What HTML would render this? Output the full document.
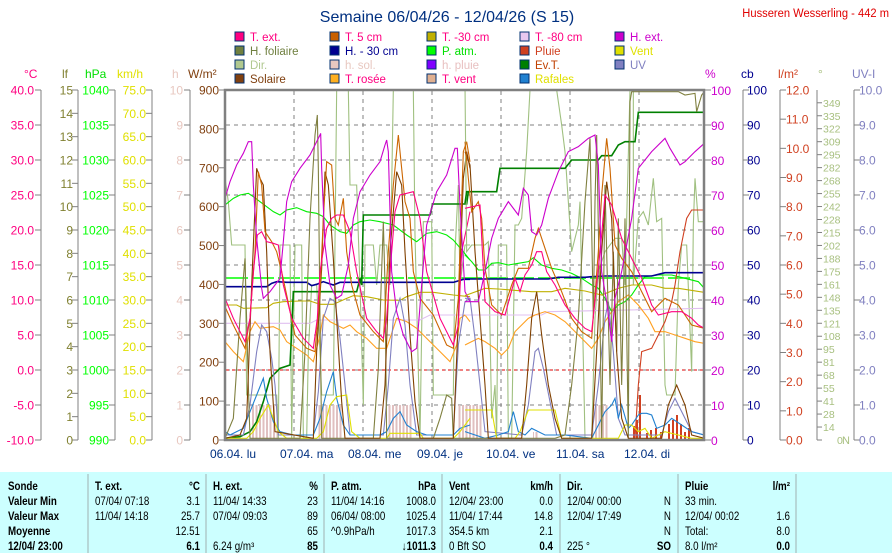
<!DOCTYPE html>
<html><head><meta charset="utf-8"><style>
html,body{margin:0;padding:0;background:#fff;width:892px;height:553px;overflow:hidden}
svg{display:block;font-family:"Liberation Sans",sans-serif}
</style></head><body>
<svg id="s" width="892" height="553" viewBox="0 0 892 553" xmlns="http://www.w3.org/2000/svg">
<defs>
<clipPath id="cp"><rect x="226" y="91" width="478" height="349"/></clipPath>
<pattern id="hs" width="3.5" height="10" patternUnits="userSpaceOnUse"><rect x="0" y="0" width="2" height="10" fill="#e0c0c0"/></pattern>
</defs>
<text x="447" y="22" font-size="16" fill="#003080" text-anchor="middle">Semaine 06/04/26 - 12/04/26 (S 15)</text>
<text x="889" y="17" font-size="12" fill="#e00000" text-anchor="end" transform="translate(889 0) scale(0.93 1) translate(-889 0)">Husseren Wesserling - 442 m</text>
<g id="legend" font-size="11.5"></g>
<g id="axes"></g>
<g id="grid"></g>
<g clip-path="url(#cp)">
 <g fill="url(#hs)">
  <rect x="252" y="405" width="28" height="35"/><rect x="317" y="405" width="26" height="35"/>
  <rect x="387" y="405" width="26" height="35"/><rect x="458" y="405" width="24" height="35"/>
  <rect x="592" y="405" width="16" height="35"/><rect x="533" y="432" width="6" height="8"/>
 </g>
 <g fill="#d04020">
  <rect x="633" y="426" width="2" height="14"/><rect x="636" y="420" width="2" height="20"/><rect x="639" y="395" width="2" height="45"/>
  <rect x="646" y="433" width="2" height="7"/><rect x="650" y="430" width="2" height="10"/><rect x="655" y="428" width="2" height="12"/>
  <rect x="660" y="432" width="2" height="8"/><rect x="668" y="424" width="2" height="16"/><rect x="672" y="420" width="2" height="20"/>
  <rect x="676" y="415" width="2" height="25"/><rect x="680" y="424" width="2" height="16"/><rect x="684" y="432" width="2" height="8"/>
  <rect x="688" y="428" width="2" height="12"/>
 </g>
 <line x1="226" y1="278" x2="690" y2="278" stroke="#00ff00" stroke-width="1.5" stroke-dasharray="22,4"/>
 <line x1="226" y1="370" x2="704" y2="370" stroke="#e00000" stroke-dasharray="3,3"/>
 <g id="L" transform="translate(220,85) scale(0.33333)" fill="none"></g>
 <g id="R" transform="translate(465,85) scale(0.33333)" fill="none"></g>
</g>
<rect x="225" y="90" width="479" height="350" fill="none" stroke="#808080" stroke-width="2.5"/>
<g id="days" font-size="12" fill="#003080"></g>
<g id="tbl"></g>
</svg>
<script>
var NS="http://www.w3.org/2000/svg";
function el(p,t,a,txt){var e=document.createElementNS(NS,t);for(var k in a)e.setAttribute(k,a[k]);if(txt!=null)e.textContent=txt;p.appendChild(e);return e;}
var lg=document.getElementById('legend');
var L=[[235,[["T. ext.","#ff0080","#ff0080"],["H. foliaire","#708040","#708040"],["Dir.","#b0c890","#b0c890"],["Solaire","#804010","#804010"]]],
[330,[["T. 5 cm","#c86000","#ff0080"],["H. - 30 cm","#000090","#000090"],["h. sol.","#e8c8c0","#e8c8c0"],["T. rosée","#ffb020","#ff0080"]]],
[427,[["T. -30 cm","#c0b000","#ff0080"],["P. atm.","#00ff00","#00e000"],["h. pluie","#8000ff","#e8c0c0"],["T. vent","#e0b090","#ff0080"]]],
[520,[["T. -80 cm","#e8c8f0","#ff0080"],["Pluie","#d04020","#d04020"],["Ev.T.","#008000","#c04000"],["Rafales","#2080d0","#e0e000"]]],
[615,[["H. ext.","#cc00cc","#cc00cc"],["Vent","#e0e000","#e0e000"],["UV","#8080c0","#8080c0"]]]];
L.forEach(function(c){c[1].forEach(function(r,i){var y=32+i*14;el(lg,'rect',{x:c[0],y:y,width:9,height:9,fill:r[1],stroke:'#003070','stroke-width':1});el(lg,'text',{x:c[0]+15,y:y+9,fill:r[2]},r[0]);});});
var ax=document.getElementById('axes');
function axis(x,col,vals,lx,anchor,tickSide,fs){var n=vals.length-1;el(ax,'line',{x1:x,y1:90,x2:x,y2:440,stroke:'#808080'});
 vals.forEach(function(v,i){var y=440-i*350/n;el(ax,'line',{x1:x+(tickSide<0?-6:0),y1:y,x2:x+(tickSide<0?0:6),y2:y,stroke:'#808080'});
 if(v!=='')el(ax,'text',{x:lx,y:y+4.5,fill:col,'font-size':fs||12,'text-anchor':anchor},v);});}
function rng(a,b,s,d){var r=[];for(var v=a;v<=b+1e-9;v+=s)r.push(v.toFixed(d));return r;}
axis(41,'#ff0080',rng(-10,40,5,1),34,'end',-1);
axis(78,'#808030',rng(0,15,1,0),73,'end',-1);
axis(115,'#00ff00',rng(990,1040,5,0),109,'end',-1);
axis(152,'#e0e000',rng(0,75,5,1),146,'end',-1);
axis(190,'#e8c8c0',rng(0,10,1,0),183,'end',-1);
axis(225,'#804010',rng(0,900,100,0),219,'end',-1);
axis(743,'#000090',rng(0,100,10,0),747,'start',1);
axis(780,'#d04020',rng(0,12,1,1),786,'start',1);
axis(854,'#8080c0',rng(0,10,1,1),859,'start',1);
rng(0,100,10,0).forEach(function(v,i){var y=440-i*35;el(ax,'line',{x1:704,y1:y,x2:711,y2:y,stroke:'#808080'});el(ax,'text',{x:711,y:y+5,fill:'#cc00cc','font-size':12},v);});
var dv=['N','14','28','41','55','68','81','95','108','121','135','148','161','175','188','202','215','228','242','255','268','282','295','309','322','335','349'];
el(ax,'line',{x1:817,y1:90,x2:817,y2:440,stroke:'#808080'});
dv.forEach(function(v,i){var y=440-i*12.97;el(ax,'line',{x1:817,y1:y,x2:822,y2:y,stroke:'#808080'});el(ax,'text',{x:i==0?842:823,y:y+4,fill:'#a8c080','font-size':i==0?11:10.5},v);});
el(ax,'text',{x:837,y:440+4,fill:'#a8c080','font-size':10.5},'0');
[[24,'°C','#ff0080'],[62,'lf','#808030'],[85,'hPa','#00e000'],[117,'km/h','#e0e000'],[172,'h','#e8c8c0'],[188,'W/m²','#804010'],[705,'%','#cc00cc'],[741,'cb','#000090'],[778,'l/m²','#d04020'],[818,'°','#a8c080'],[852,'UV-I','#8080c0']].forEach(function(u){el(ax,'text',{x:u[0],y:78,fill:u[2],'font-size':12},u[1]);});
var g=document.getElementById('grid');
for(var i=1;i<10;i++){var y=440-i*35;el(g,'line',{x1:226,y1:y,x2:704,y2:y,stroke:'#808080','stroke-dasharray':'4,4'});}
[294,363,432,501,570,639].forEach(function(x){el(g,'line',{x1:x,y1:91,x2:x,y2:440,stroke:'#808080','stroke-dasharray':'4,4'});});
var dg=document.getElementById('days');
[['06.04.  lu',210],['07.04.  ma',280],['08.04.  me',348],['09.04.  je',417],['10.04.  ve',486],['11.04.  sa',556],['12.04.  di',624]].forEach(function(d){el(dg,'text',{x:d[1],y:458,'xml:space':'preserve'},d[0]);});
var SER=[
['#a0c080',"15,280 25,350 35,480 75,480 80,930 170,930 175,1060 180,480 210,480 215,1060 225,480 245,480 250,1060 260,1060 265,800 275,600 290,600 300,800 305,930 340,930 350,14 385,14 390,300 410,300 420,600 430,960 435,480 460,480 470,600 480,480 500,480 510,600 520,14 580,14 585,450 600,1060 610,410 635,410 640,930 700,930 705,500 715,300 720,600 735,480 750,480",
 "0,0 5,500 20,480 60,480 70,470 80,1000 90,900 95,1060 100,480 125,480 130,1060 140,1060 150,420 160,420 170,400 185,200 195,15 275,15 290,120 300,200 310,350 320,500 340,420 345,350 360,1060 380,1060 390,700 400,560 420,500 450,460 470,460 480,600 495,15 505,15 505,600 520,400 535,380 550,420 565,280 575,410 590,400 600,900 605,930 630,930 640,600 650,480 665,480 680,860 685,420 690,280 700,410 718,410"],
['#e0c0f0',"15,715 270,715 290,705 600,705 630,690 750,690","0,690 230,690 250,680 718,670"],
['#00ee00',"15,360 40,340 60,330 85,325 100,335 120,350 140,365 160,380 180,390 200,375 230,368 260,380 290,385 310,395 330,420 360,440 380,445 400,420 420,410 450,405 480,410 520,420 560,450 590,470 620,445 650,440 680,450 700,465 730,500 750,525",
 "0,510 20,530 40,555 60,555 80,535 100,533 130,540 160,535 190,530 205,518 230,540 260,550 290,555 320,565 350,580 380,600 400,610 420,640 440,680 460,660 480,650 500,630 520,600 540,575 580,570 620,570 660,580 700,590 718,610"],
['#000090',"15,605 140,605 155,595 170,590 200,592 260,592 275,602 290,598 310,590 340,600 360,592 700,592 730,583 750,583","0,582 250,582 280,577 360,577 380,575 420,573 480,573 560,573 600,563 718,563"],
['#c0b000',"15,660 50,660 70,670 140,668 160,655 190,650 240,648 270,648 300,658 340,658 380,640 400,632 440,635 490,645 540,646 560,635 600,622 640,622 700,630 750,635","0,632 60,610 100,612 200,620 260,620 300,610 360,618 410,630 460,610 500,600 560,600 600,610 640,610 718,622"],
['#ffa020',"15,770 40,800 70,830 90,740 105,710 120,730 160,725 180,735 200,770 230,790 260,810 280,830 300,750 310,690 330,710 350,720 370,730 390,720 410,740 440,760 470,790 500,790 520,730 530,700 560,710 590,730 620,760 660,800 690,830 710,780 720,700 735,690 750,710",
 "0,780 20,770 40,760 60,770 90,790 110,810 130,790 150,740 170,720 190,700 210,690 240,680 270,690 300,710 330,740 360,770 380,790 400,760 420,710 460,650 490,630 520,660 550,700 570,740 600,740 630,750 660,760 690,770 718,775"],
['#008000',"15,1060 60,1055 90,1040 110,1010 130,950 150,880 180,850 210,840 215,740 220,620 410,620 420,580 425,600 430,390 630,390 638,357 740,357 745,320 750,320","0,355 5,320 95,320 105,250 300,250 320,225 400,225 410,212 440,212 460,180 480,170 510,170 520,82 718,82"],
['#d04020',"","510,1060 520,900 530,800 560,790 600,710 620,650 630,600 645,500 665,400 680,375 718,375"],
['#8080c0',"15,1050 70,1050 90,960 110,800 125,720 140,740 155,820 165,900 175,1050 280,1050 295,920 310,700 330,640 345,650 360,760 375,900 390,1050 490,1050 505,900 520,700 540,640 555,720 570,900 590,1050 700,1050 715,780 735,650 750,640",
 "0,640 15,640 30,760 45,900 60,1040 170,1050 190,960 210,800 220,790 235,850 255,950 275,1050 380,1050 400,900 420,700 430,650 445,800 460,1000 480,1050 590,1050 610,980 630,940 650,980 680,1040 718,1050"],
['#2080d0',"15,1040 30,1050 50,1040 70,1030 90,980 110,930 130,880 140,940 160,1010 180,1040 220,1050 280,1050 300,1000 320,920 340,860 350,940 370,1020 390,1050 480,1050 500,1040 520,1000 540,980 560,1020 590,1040 620,1050 700,1050 720,1030 750,1020",
 "0,1040 60,1060 100,1050 130,1040 145,980 160,1040 180,1050 200,1030 240,1050 300,1050 380,1060 400,1020 420,980 440,960 450,940 460,1000 470,960 490,1030 500,1020 520,990 530,985 545,985 560,990 575,1030 600,1020 620,1000 650,1020 680,1040 718,1050"],
['#e0e000',"15,1060 80,1060 100,1040 120,1000 145,960 160,1000 175,1040 200,1060 290,1060 310,1040 330,960 350,935 380,930 395,1040 420,1060 500,1060 510,1045 600,1045 610,1060 700,1060 720,1040 750,1000",
 "0,975 20,975 80,975 95,1060 150,1060 165,1040 190,975 270,975 290,1060 410,1060 460,1060 480,1020 500,1020 520,1040 540,1030 560,1060 600,1040 640,1050 680,1060 718,1060"],
['#808040',"15,1060 40,1000 60,700 75,520 85,900 90,1060 240,1060 255,800 270,400 285,150 292,90 295,250 300,700 305,1060 460,1060 475,850 490,410 495,600 500,1060 640,1060 660,1000 680,930 695,940 700,1060 750,1060",
 "0,1060 270,1060 300,1050 320,900 340,700 360,350 375,160 385,700 390,350 395,150 405,700 410,1060 420,300 435,900 445,500 455,800 460,400 470,900 480,400 490,1060 495,50 500,20 640,20 660,30 690,25 695,80 710,30 718,20"],
['#804000',"15,1060 60,1050 80,1000 95,600 110,250 120,280 130,300 140,500 150,800 165,1040 280,1060 290,800 305,550 315,260 325,300 340,520 350,700 365,950 375,1060 480,1060 495,900 510,500 530,260 545,300 555,500 570,750 585,950 600,1060 700,1060 715,700 730,280 740,200 750,250",
 "0,200 15,240 30,500 45,700 60,900 70,1060 170,1060 185,900 200,700 215,620 230,750 250,900 270,1000 290,1060 380,1060 395,800 410,500 425,290 440,400 455,800 470,1000 490,1060 590,1060 610,960 635,900 660,960 680,1050 718,1060"],
['#cc6600',"15,665 40,720 75,790 90,700 105,500 115,260 125,300 135,440 155,470 170,500 185,560 200,630 225,750 260,790 285,800 300,620 310,400 320,230 335,240 345,400 355,420 370,340 380,500 395,600 420,690 460,740 490,770 505,500 520,300 535,150 545,250 555,350 570,400 580,560 600,640 640,690 680,780 700,790 715,640 730,200 740,170 750,230",
 "0,170 10,280 20,380 40,350 50,400 60,550 80,660 110,690 140,600 160,550 190,550 210,460 220,430 240,490 260,550 290,620 320,700 350,740 380,760 400,500 410,330 425,160 435,250 450,480 470,520 500,560 530,620 560,680 600,640 640,660 680,720 718,730"],
['#ff0080',"15,640 40,700 75,770 90,700 100,560 112,450 125,440 140,470 160,475 175,480 190,600 215,700 250,760 280,790 292,700 300,560 320,430 335,400 350,390 370,390 390,440 410,560 440,700 470,740 490,760 500,700 510,560 525,380 540,330 580,320 600,400 620,560 660,700 700,780 715,720 725,500 750,380",
 "0,370 45,360 60,650 90,680 120,690 150,580 165,620 180,570 200,540 215,500 230,500 245,560 270,600 300,660 330,700 360,730 380,740 395,600 410,450 420,330 440,360 470,460 500,520 530,580 560,660 580,690 620,680 650,680 680,700 700,720 718,730"],
['#cc00cc',"15,340 30,290 50,240 70,205 85,170 95,170 100,300 110,460 125,610 130,640 150,620 165,600 180,580 190,470 200,350 215,290 240,250 270,210 290,170 300,150 302,145 305,250 315,480 330,600 350,640 365,630 385,540 400,400 420,320 450,270 480,230 495,180 500,165 505,200 515,560 530,680 550,750 575,800 590,790 605,600 620,420 650,320 680,270 705,190 712,190 720,360 735,620 750,650",
 "0,650 40,650 60,560 80,460 100,400 130,350 160,390 175,310 190,330 200,440 215,450 230,420 250,340 280,260 310,200 340,185 370,160 390,150 400,240 410,560 425,650 440,770 450,640 470,560 500,400 520,250 560,200 600,160 615,190 645,240 660,230 690,200 718,175"]
];
var GL=document.getElementById('L'),GR=document.getElementById('R');
SER.forEach(function(s){var w=(s[0]=='#008000'||s[0]=='#000090')?1.6:1.1;
 if(s[1])el(GL,'polyline',{points:s[1],stroke:s[0],'stroke-width':w,'vector-effect':'non-scaling-stroke'});
 if(s[2])el(GR,'polyline',{points:s[2],stroke:s[0],'stroke-width':w,'vector-effect':'non-scaling-stroke'});});
var T=document.getElementById('tbl');
el(T,'rect',{x:0,y:472,width:892,height:81,fill:'#ccffff'});
[88,206,324,442,560,678,796].forEach(function(x){el(T,'line',{x1:x,y1:474,x2:x,y2:553,stroke:'#a0b0b0'});});
var rows=[490,505,520,535,550];
function tx(x,y,s,anchor,bold){el(T,'text',{x:x,y:y,'font-size':11.5,'font-weight':bold?'bold':'normal','text-anchor':anchor||'start',fill:'#000',transform:'translate('+x+' 0) scale(0.85 1) translate('+(-x)+' 0)','xml:space':'preserve'},s);}
['Sonde','Valeur Min','Valeur Max','Moyenne','12/04/ 23:00'].forEach(function(s,i){tx(8,rows[i],s,'start',true);});
var C=[[95,200,[['T. ext.','°C',1],['07/04/ 07:18','3.1'],['11/04/ 14:18','25.7'],['','12.51'],['','6.1',2]]],
[213,318,[['H. ext.','%',1],['11/04/ 14:33','23'],['07/04/ 09:03','89'],['','65'],['6.24 g/m³','85',2]]],
[331,436,[['P. atm.','hPa',1],['11/04/ 14:16','1008.0'],['06/04/ 08:00','1025.4'],['^0.9hPa/h','1017.3'],['','↓1011.3',2]]],
[449,553,[['Vent','km/h',1],['12/04/ 23:00','0.0'],['11/04/ 17:44','14.8'],['354.5 km','2.1'],['0 Bft SO','0.4',2]]],
[567,671,[['Dir.','',1],['12/04/ 00:00','N'],['12/04/ 17:49','N'],['','N'],['225 °','SO',2]]],
[685,790,[['Pluie','l/m²',1],['33 min.',''],['12/04/ 00:02','1.6'],['Total:','8.0'],['8.0 l/m²','0.0',2]]]];
C.forEach(function(c){c[2].forEach(function(r,i){tx(c[0],rows[i],r[0],'start',r[2]==1);tx(c[1],rows[i],r[1],'end',!!r[2]);});});
</script>
</body></html>
